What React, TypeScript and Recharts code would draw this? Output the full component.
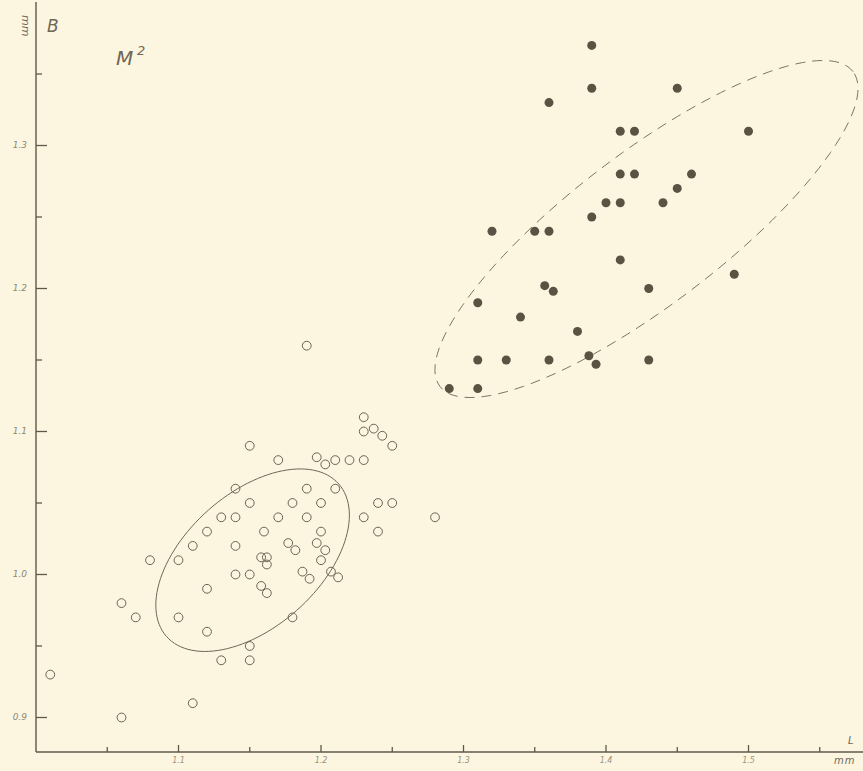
import React from 'react';
import { ScatterChart, Scatter, XAxis, YAxis } from 'recharts';

// Open circles (L, B in mm)
const openL = [1.01, 1.06, 1.06, 1.07, 1.08, 1.10, 1.10, 1.11, 1.11, 1.12, 1.12, 1.12, 1.13, 1.13, 1.14, 1.14, 1.14, 1.14, 1.15, 1.15, 1.15, 1.15, 1.15, 1.19, 1.23, 1.23, 1.237, 1.243, 1.25, 1.17, 1.197, 1.203, 1.21, 1.22, 1.23, 1.19, 1.21, 1.18, 1.20, 1.24, 1.25, 1.17, 1.19, 1.23, 1.28, 1.16, 1.20, 1.24, 1.177, 1.182, 1.197, 1.203, 1.158, 1.162, 1.162, 1.20, 1.187, 1.192, 1.207, 1.212, 1.158, 1.162, 1.18];
const openB = [0.93, 0.90, 0.98, 0.97, 1.01, 0.97, 1.01, 1.02, 0.91, 1.03, 0.99, 0.96, 1.04, 0.94, 1.06, 1.04, 1.02, 1.00, 1.09, 1.05, 1.00, 0.95, 0.94, 1.16, 1.11, 1.10, 1.102, 1.097, 1.09, 1.08, 1.082, 1.077, 1.08, 1.08, 1.08, 1.06, 1.06, 1.05, 1.05, 1.05, 1.05, 1.04, 1.04, 1.04, 1.04, 1.03, 1.03, 1.03, 1.022, 1.017, 1.022, 1.017, 1.012, 1.012, 1.007, 1.01, 1.002, 0.997, 1.002, 0.998, 0.992, 0.987, 0.97];

// Filled dots
const filledL = [1.39, 1.39, 1.36, 1.45, 1.41, 1.42, 1.50, 1.41, 1.42, 1.46, 1.45, 1.40, 1.41, 1.44, 1.39, 1.32, 1.35, 1.36, 1.41, 1.49, 1.43, 1.357, 1.363, 1.31, 1.34, 1.38, 1.31, 1.33, 1.36, 1.388, 1.393, 1.43, 1.29, 1.31];
const filledB = [1.37, 1.34, 1.33, 1.34, 1.31, 1.31, 1.31, 1.28, 1.28, 1.28, 1.27, 1.26, 1.26, 1.26, 1.25, 1.24, 1.24, 1.24, 1.22, 1.21, 1.20, 1.202, 1.198, 1.19, 1.18, 1.17, 1.15, 1.15, 1.15, 1.153, 1.147, 1.15, 1.13, 1.13];

// Ellipses: centre (L, B), semi-axes (mm), tilt (deg)
const solidEllipse = { cx: 1.152, cy: 1.010, a: 0.0806, b: 0.0468, angle: 41.4 };
const dashedEllipse = { cx: 1.4284, cy: 1.2416, a: 0.1820, b: 0.0530, angle: 37.2 };

const xTicks = [1.05, 1.1, 1.15, 1.2, 1.25, 1.3, 1.35, 1.4, 1.45, 1.5, 1.55];
const yTicks = [0.9, 0.95, 1.0, 1.05, 1.1, 1.15, 1.2, 1.25, 1.3, 1.35];
const xLabels: Record<string, string> = { '1.1': '1.1', '1.2': '1.2', '1.3': '1.3', '1.4': '1.4', '1.5': '1.5' };
const yLabels: Record<string, string> = { '0.9': '0.9', '1': '1.0', '1.1': '1.1', '1.2': '1.2', '1.3': '1.3' };

const W = 863;
const H = 771;
const BG = '#fcf6e1';
const INK = '#5f584a';

const openData = openL.map((x, i) => ({ x, y: openB[i] }));
const filledData = filledL.map((x, i) => ({ x, y: filledB[i] }));

function ellipseOutline(e: { cx: number; cy: number; a: number; b: number; angle: number }) {
  const pts: { x: number; y: number }[] = [];
  const th = (e.angle * Math.PI) / 180;
  const n = 120;
  for (let i = 0; i <= n; i++) {
    const t = (i / n) * 2 * Math.PI;
    const u = e.a * Math.cos(t);
    const v = e.b * Math.sin(t);
    pts.push({ x: e.cx + u * Math.cos(th) - v * Math.sin(th), y: e.cy + u * Math.sin(th) + v * Math.cos(th) });
  }
  return pts;
}

const solidOutline = ellipseOutline(solidEllipse);
const dashedOutline = ellipseOutline(dashedEllipse);

const isMajor = (v: number) => Math.abs(v * 10 - Math.round(v * 10)) < 1e-6;

const XTick = (props: any) => {
  const { x, y, payload } = props;
  const v = payload.value;
  const major = isMajor(v);
  const key = String(Math.round(v * 100) / 100);
  return (
    <g>
      <line x1={x} x2={x} y1={y} y2={y - (major ? 7 : 5)} stroke={INK} strokeWidth={1.3} />
      {major && xLabels[key] ? (
        <text x={x} y={y + 11} textAnchor="middle" fontSize={8} fill="#9b927f" fontStyle="italic" fontFamily="DejaVu Sans">
          {xLabels[key]}
        </text>
      ) : null}
    </g>
  );
};

const YTick = (props: any) => {
  const { x, y, payload } = props;
  const v = payload.value;
  const major = isMajor(v);
  const key = String(Math.round(v * 100) / 100);
  return (
    <g>
      <line x1={x} x2={x + (major ? 11 : 6)} y1={y} y2={y} stroke={INK} strokeWidth={1.3} />
      {major && yLabels[key] ? (
        <text x={x - 9} y={y + 3} textAnchor="end" fontSize={9} fill="#8f8674" fontStyle="italic" fontFamily="DejaVu Sans">
          {yLabels[key]}
        </text>
      ) : null}
    </g>
  );
};

const OpenDot = (props: any) => (
  <circle cx={props.cx} cy={props.cy} r={4.4} fill="none" stroke="#6b6352" strokeWidth={1} />
);
const FilledDot = (props: any) => (
  <circle cx={props.cx} cy={props.cy} r={4.5} fill="#5a5343" stroke="none" />
);
const NoDot = () => <g />;

export default function App() {
  return (
    <div style={{ position: 'absolute', left: 0, top: 0, width: W, height: H, background: BG, overflow: 'hidden' }}>
      <ScatterChart width={W} height={H} margin={{ top: 2, right: 0, left: 0, bottom: 0 }}>
        <XAxis
          type="number"
          dataKey="x"
          domain={[1.0, 1.58035]}
          ticks={xTicks}
          interval={0}
          height={19}
          tickSize={0}
          tickMargin={0}
          tickLine={false}
          tick={<XTick />}
          axisLine={{ stroke: INK, strokeWidth: 1.4 }}
          allowDataOverflow
        />
        <YAxis
          type="number"
          dataKey="y"
          domain={[0.87587, 1.40035]}
          ticks={yTicks}
          interval={0}
          width={36}
          tickSize={0}
          tickMargin={0}
          tickLine={false}
          tick={<YTick />}
          axisLine={{ stroke: INK, strokeWidth: 1.4 }}
          allowDataOverflow
        />
        <Scatter
          data={solidOutline}
          line={{ stroke: '#6f6756', strokeWidth: 1 }}
          lineJointType="linear"
          shape={<NoDot />}
          isAnimationActive={false}
        />
        <Scatter
          data={dashedOutline}
          line={{ stroke: '#7d7463', strokeWidth: 1, strokeDasharray: '10 7' }}
          lineJointType="linear"
          shape={<NoDot />}
          isAnimationActive={false}
        />
        <Scatter data={openData} shape={<OpenDot />} isAnimationActive={false} />
        <Scatter data={filledData} shape={<FilledDot />} isAnimationActive={false} />
      </ScatterChart>
      <svg
        width={W}
        height={H}
        style={{ position: 'absolute', left: 0, top: 0, pointerEvents: 'none' }}
      >
        <text transform="translate(22,15) rotate(90)" fontSize={11} fill="#6f6756" fontStyle="italic" fontFamily="DejaVu Sans">
          mm
        </text>
        <text x={47} y={32} fontSize={17} fill="#6f6756" fontStyle="italic" fontFamily="DejaVu Sans">
          B
        </text>
        <text x={116} y={65} fontSize={20} fill="#6f6756" fontStyle="italic" fontFamily="DejaVu Sans">
          M
        </text>
        <text x={137} y={55} fontSize={13} fill="#6f6756" fontStyle="italic" fontFamily="DejaVu Sans">
          2
        </text>
        <text x={848} y={744} fontSize={10} fill="#6f6756" fontStyle="italic" fontFamily="DejaVu Sans">
          L
        </text>
        <text x={834} y={764} fontSize={10} fill="#6f6756" fontStyle="italic" fontFamily="DejaVu Sans" letterSpacing={1}>
          mm
        </text>
      </svg>
    </div>
  );
}
